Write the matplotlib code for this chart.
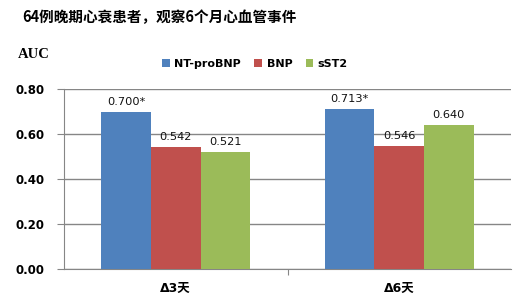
import matplotlib
matplotlib.use("Agg")
import matplotlib.pyplot as plt
import numpy as np

plt.rcParams['font.family'] = ['DejaVu Sans', 'Noto Sans CJK SC']

categories = ["Δ3天", "Δ6天"]
series_names = ["NT-proBNP", "BNP", "sST2"]
nt_probnp = [0.700, 0.713]
bnp = [0.542, 0.546]
sst2 = [0.521, 0.640]
labels_nt = ["0.700*", "0.713*"]
labels_bnp = ["0.542", "0.546"]
labels_sst2 = ["0.521", "0.640"]
yticks = [0.0, 0.2, 0.4, 0.6, 0.8]

colors = ["#4F81BD", "#C0504D", "#9BBB59"]

fig = plt.figure(figsize=(5.29, 3.03), dpi=100)
ax = fig.add_axes([64/529, 1-269/303, (511-64)/529, (269-89)/303])

x = np.arange(len(categories))
w = 0.222
for i, (vals, labs) in enumerate(zip([nt_probnp, bnp, sst2], [labels_nt, labels_bnp, labels_sst2])):
    pos = x + (i - 1) * w
    ax.bar(pos, vals, width=w, color=colors[i], zorder=3, label=series_names[i])
    for p, v, l in zip(pos, vals, labs):
        ax.text(p, v + 0.022, l, ha='center', va='bottom', fontsize=8.2, color='#111111')

ax.set_xlim(-0.5, 1.5)
ax.set_ylim(0, 0.8)
ax.set_yticks(yticks)
ax.set_yticklabels([f"{t:.2f}" for t in yticks], fontsize=8.5, fontweight='bold')
ax.yaxis.grid(True, color='#868686', linewidth=1, zorder=0)
ax.set_axisbelow(True)
ax.set_xticks([0.5])
ax.set_xticklabels([""])
ax.tick_params(axis='x', length=4, color='#868686', direction='out')
ax.tick_params(axis='y', length=5, color='#868686', pad=9)
for s in ['top', 'right']:
    ax.spines[s].set_visible(False)
for s in ['left', 'bottom']:
    ax.spines[s].set_color('#868686')
for xi, c in zip(x, categories):
    ax.text(xi, -0.085, c, ha='center', va='center', fontsize=9, fontweight='bold',
            transform=ax.transData)

fig.text(22/529, 1-17/303, "64例晚期心衰患者，观察6个月心血管事件", fontsize=10.5, fontweight='bold',
         family=['Noto Sans CJK SC', 'DejaVu Sans'], va='center', ha='left')
fig.text(18/529, 1-55/303, "AUC", fontsize=10.5, fontweight='bold', family='Liberation Serif',
         va='center', ha='left')

leg = fig.legend(loc='center left', bbox_to_anchor=(152/529, 1-64/303), ncol=3, frameon=False,
                 handlelength=0.7, handleheight=0.7, handletextpad=0.4,
                 columnspacing=1.2, prop={'weight': 'bold', 'size': 8})

fig.savefig("out.png", dpi=100)
